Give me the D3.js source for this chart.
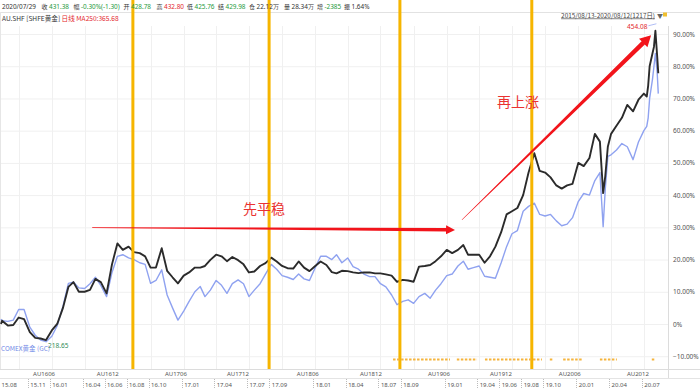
<!DOCTYPE html>
<html>
<head>
<meta charset="utf-8">
<script src="https://cdn.jsdelivr.net/npm/d3@7"></script>
<style>
body { margin: 0; background: #fff; }
svg { display: block; font-family: "Noto Sans CJK SC", "Noto Sans", sans-serif; }
</style>
</head>
<body>
<svg width="700" height="389"></svg>
<script>
// **** data (percent change since 2015/08/13) ****
var dates = ["2015-08-13","2015-08-16","2015-09-01","2015-09-16","2015-10-01","2015-10-16","2015-11-01","2015-11-16","2015-12-01","2015-12-16",
  "2016-01-01","2016-01-16","2016-02-01","2016-02-16","2016-03-01","2016-03-16","2016-04-01","2016-04-16","2016-05-01","2016-05-16",
  "2016-06-01","2016-06-16","2016-07-01","2016-07-16","2016-08-01","2016-08-16","2016-09-01","2016-09-16","2016-10-01","2016-10-16",
  "2016-11-01","2016-11-16","2016-12-01","2016-12-16","2017-01-01","2017-01-16","2017-02-01","2017-02-16","2017-03-01","2017-03-16",
  "2017-04-01","2017-04-16","2017-05-01","2017-05-16","2017-06-01","2017-06-16","2017-07-01","2017-07-16","2017-08-01","2017-08-16",
  "2017-09-01","2017-09-16","2017-10-01","2017-10-16","2017-11-01","2017-11-16","2017-12-01","2017-12-16","2018-01-01","2018-01-16",
  "2018-02-01","2018-02-16","2018-03-01","2018-03-16","2018-04-01","2018-04-16","2018-05-01","2018-05-16","2018-06-01","2018-06-16",
  "2018-07-01","2018-07-16","2018-08-01","2018-08-16","2018-09-01","2018-09-16","2018-10-01","2018-10-16","2018-11-01","2018-11-16",
  "2018-12-01","2018-12-16","2019-01-01","2019-01-16","2019-02-01","2019-02-16","2019-03-01","2019-03-16","2019-04-01","2019-04-16",
  "2019-05-01","2019-05-16","2019-06-01","2019-06-16","2019-07-01","2019-07-16","2019-08-01","2019-08-16","2019-09-01","2019-09-16",
  "2019-10-01","2019-10-16","2019-11-01","2019-11-16","2019-12-01","2019-12-16","2020-01-01","2020-01-16","2020-02-01","2020-02-16",
  "2020-03-01","2020-03-10","2020-03-16","2020-03-23","2020-04-01","2020-04-16","2020-05-01","2020-05-16","2020-06-01","2020-06-16",
  "2020-07-01","2020-07-09","2020-07-13","2020-07-17","2020-07-25","2020-07-29","2020-08-02","2020-08-07","2020-08-10"];

var auPct = [0,1.0,-0.5,-0.3,2.0,1.5,-2.5,-4.3,-4.5,-5,
  -2,0,5,11.5,13,10,10,10.6,14,13,
  9.5,18.5,25,23,24,22.3,22,21,17.5,17.5,
  23.5,16.5,14.5,12.6,15,16,17.5,17.5,18,19.9,
  21.5,21,19.5,20.8,19.8,18.5,16,16.3,18,18.9,
  20.6,19.4,18,17.3,17.2,19.4,17.5,16.4,18,19.4,
  18.3,16.1,15.7,16.5,16.4,16,15.8,16,16,15.7,
  15.7,15.4,15,13.1,13.7,13.5,13.1,17.8,18,18.3,
  19.5,21,23,22,23,24.5,21.5,21.5,21.5,19,
  21,24,28.5,34,35,36,40,47,53,47.5,
  47,45.5,43,42,43,43.5,50,49,51.5,59,
  56.6,40.6,46,55,59,61.5,64,68,66,69.6,
  71.5,70.6,74,80,84,86,91,83,77.8];

var gcPct = [1.5,1.0,0.8,1.2,4.5,4.5,-1,-3.5,-5,-5.5,
  -3.8,-0.5,5.5,12.6,13,11.2,11,12.5,14.5,12,
  8.5,16,21,21.5,20.5,20,19,18.5,12.6,13.5,
  16.8,9,5,1.2,4,7,10,11.6,8.5,10.5,
  13.5,12,9.5,12.5,13.7,12.5,8.5,10.5,12.5,15.5,
  18.5,17,15,14.5,13.8,15.5,14,13.5,17.5,21,
  21,20,21.5,19,20.5,17.8,17,15.5,14.7,14.7,
  12.5,11.5,9,6,7,7.5,6.4,8.5,9.5,8,
  10.5,12.5,15,15.5,18,19.5,17,17.5,18,14.8,
  14.5,14.2,19,24,28,29,35,36.5,37.5,34,
  33.5,34,32,30.5,31,33,38,40.5,40,44.5,
  47,30.2,42,52,52.5,54,56,55,51,56.5,
  60,61.3,64,70,76,80,84,78,71.5];

var pctTicks = [-10,0,10,20,30,40,50,60,70,80,90];

var monthTicks = ["2015-08-13","2015-11-01","2016-01-01","2016-04-01","2016-06-01","2016-08-01","2016-10-01","2017-01-01","2017-04-01","2017-07-01","2017-09-01",
  "2018-01-01","2018-04-01","2018-07-01","2018-09-01","2019-01-01","2019-04-01","2019-06-01","2019-08-01","2019-10-01","2020-01-01","2020-04-01","2020-07-01"];
var monthLabels = ["15.08","15.11","16.01","16.04","16.06","16.08","16.10","17.01","17.04","17.07","17.09",
  "18.01","18.04","18.07","18.09","19.01","19.04","19.06","19.08","19.10","20.01","20.04","20.07"];

var contracts = ["AU1606","AU1612","AU1706","AU1712","AU1806","AU1812","AU1906","AU1912","AU2006","AU2012"];
var contractDates = ["2015-11-10","2016-05-05","2016-11-10","2017-05-01","2017-11-11","2018-05-05","2018-11-10","2019-05-01","2019-11-08","2020-05-15"];

var rollDates = ["2016-08-13","2017-08-26","2018-08-24","2019-08-25"];

var signalRanges = [["2018-08-05","2019-01-10"],["2019-01-29","2019-03-26"],["2019-04-17","2019-09-22"],["2019-10-14","2019-10-23"],
  ["2019-11-20","2020-01-14"],["2020-03-01","2020-04-17"],["2020-07-23","2020-08-01"]];

var headerLabels = ["", "收", "幅", "开", "高", "低", "结", "仓", "量", "增", "振"];
var headerValues = ["2020/07/29", "431.38", "-0.30%(-1.30)", "428.78", "432.80", "425.76", "429.98", "22.12万", "28.34万", "-2385", "1.64%"];
var headerColors = ["#333", "#1e9a3c", "#1e9a3c", "#1e9a3c", "#e3262c", "#1e9a3c", "#1e9a3c", "#333", "#333", "#1e9a3c", "#333"];

// annotations: [date, pct]
var flatArrow = [["2016-04-22", 29.9], ["2019-01-24", 29.2]];
var riseArrow = [["2019-02-12", 32.3], ["2020-07-21", 89.6]];
var notes = [["先平稳", "2017-08-12", 36], ["再上涨", "2019-07-18", 69.2]];

// **** scales ****
var parse = d3.timeParse("%Y-%m-%d");
var W = 700, H = 389;
var plotRight = 668, plotBottom = 369;

var x = d3.scaleTime().domain([parse("2015-08-13"), parse("2020-08-12")]).range([1, 659]);
var y = d3.scaleLinear().domain([-10, 90]).range([356.2, 34]);

var svg = d3.select("svg");

var au = dates.map(function(d, i) { return { date: parse(d), v: auPct[i] }; });
var gc = dates.map(function(d, i) { return { date: parse(d), v: gcPct[i] }; });

// grid
svg.append("g").selectAll("line").data(pctTicks).join("line")
  .attr("x1", 0).attr("x2", plotRight)
  .attr("y1", function(d) { return y(d) + 0.5; }).attr("y2", function(d) { return y(d) + 0.5; })
  .attr("stroke", "#f0f0f0");

var quarters = d3.timeMonth.every(3).range(parse("2015-10-01"), parse("2020-08-12"));
svg.append("g").selectAll("line").data(quarters).join("line")
  .attr("x1", function(d) { return Math.round(x(d)) + 0.5; }).attr("x2", function(d) { return Math.round(x(d)) + 0.5; })
  .attr("y1", 26).attr("y2", plotBottom)
  .attr("stroke", "#f0f0f0");

// frame lines
svg.append("line").attr("x1", 0).attr("x2", W).attr("y1", 12.5).attr("y2", 12.5).attr("stroke", "#e2e2e2");
svg.append("line").attr("x1", plotRight + 0.5).attr("x2", plotRight + 0.5).attr("y1", 26).attr("y2", 378).attr("stroke", "#dcdcdc");
svg.append("line").attr("x1", 0.5).attr("x2", 0.5).attr("y1", 12).attr("y2", plotBottom).attr("stroke", "#e6e6e6");
svg.append("line").attr("x1", 0).attr("x2", W).attr("y1", plotBottom + 0.5).attr("y2", plotBottom + 0.5).attr("stroke", "#dcdcdc");
svg.append("line").attr("x1", 0).attr("x2", W).attr("y1", 378.5).attr("y2", 378.5).attr("stroke", "#e4e4e4");

// right axis
var yAxis = svg.append("g").attr("transform", "translate(" + plotRight + ",0)")
  .call(d3.axisRight(y).tickValues(pctTicks).tickSize(0).tickPadding(5)
    .tickFormat(function(d) { return d === 0 ? "0%" : d3.format(".2f")(d) + "%"; }));
yAxis.select(".domain").remove();
yAxis.selectAll("text").attr("fill", "#555").style("font-size", "6.5px").style("font-family", "Noto Sans, sans-serif");

// series
var line = d3.line().x(function(d) { return x(d.date); }).y(function(d) { return y(d.v); });

svg.append("path").datum(gc).attr("d", line)
  .attr("fill", "none").attr("stroke", "#8fa2f0").attr("stroke-width", 1.4).attr("stroke-linejoin", "round");
svg.append("path").datum(au).attr("d", line)
  .attr("fill", "none").attr("stroke", "#2b2b2b").attr("stroke-width", 1.9).attr("stroke-linejoin", "round");

// contract roll lines
svg.append("g").selectAll("line").data(rollDates).join("line")
  .attr("x1", function(d) { return x(parse(d)); }).attr("x2", function(d) { return x(parse(d)); })
  .attr("y1", 0).attr("y2", plotBottom)
  .attr("stroke", "#f6b500").attr("stroke-width", 3);

// signal marks along the bottom
svg.append("g").selectAll("line").data(signalRanges).join("line")
  .attr("x1", function(d) { return x(parse(d[0])); }).attr("x2", function(d) { return x(parse(d[1])); })
  .attr("y1", 359.5).attr("y2", 359.5)
  .attr("stroke", "#f5b43c").attr("stroke-width", 2).attr("stroke-dasharray", "2.5,1.5");

// arrows
function arrowPath(p0, p1, w0, w1, headLen, headHalf) {
  var dx = p1[0] - p0[0], dy = p1[1] - p0[1];
  var len = Math.sqrt(dx * dx + dy * dy);
  var ux = dx / len, uy = dy / len, nx = -uy, ny = ux;
  var bx = p1[0] - ux * headLen, by = p1[1] - uy * headLen;
  var pts = [
    [p0[0] + nx * w0 / 2, p0[1] + ny * w0 / 2],
    [bx + nx * w1 / 2, by + ny * w1 / 2],
    [bx + nx * headHalf, by + ny * headHalf],
    [p1[0], p1[1]],
    [bx - nx * headHalf, by - ny * headHalf],
    [bx - nx * w1 / 2, by - ny * w1 / 2],
    [p0[0] - nx * w0 / 2, p0[1] - ny * w0 / 2]
  ];
  return "M" + pts.map(function(p) { return p[0].toFixed(1) + "," + p[1].toFixed(1); }).join("L") + "Z";
}
function toPx(a) { return [x(parse(a[0])), y(a[1])]; }

svg.append("path").attr("d", arrowPath(toPx(flatArrow[0]), toPx(flatArrow[1]), 0.6, 3.6, 9, 4.5)).attr("fill", "#f2141b");
svg.append("path").attr("d", arrowPath(toPx(riseArrow[0]), toPx(riseArrow[1]), 0.6, 4.6, 11, 6)).attr("fill", "#f2141b");

svg.append("g").selectAll("text").data(notes).join("text")
  .attr("x", function(d) { return x(parse(d[1])); })
  .attr("y", function(d) { return y(d[2]); })
  .attr("text-anchor", "middle").attr("dominant-baseline", "central")
  .attr("fill", "#ea3230").style("font-size", "14px")
  .text(function(d) { return d[0]; });

// max / min price labels
var iMax = d3.maxIndex(auPct), iMin = d3.minIndex(auPct);
var maxX = x(au[iMax].date), maxY = y(au[iMax].v);
svg.append("line").attr("x1", maxX - 7).attr("y1", maxY - 5).attr("x2", maxX + 1).attr("y2", maxY - 7)
  .attr("stroke", "#8fa2f0").attr("stroke-width", 0.7);
svg.append("text").attr("x", maxX - 8).attr("y", maxY - 2).attr("text-anchor", "end")
  .attr("fill", "#e3262c").style("font-size", "6.5px").style("font-family", "Noto Sans, sans-serif").text("454.08");
svg.append("text").attr("x", x(au[iMin].date) + 2).attr("y", y(au[iMin].v) + 8)
  .attr("fill", "#2e8b57").style("font-size", "6.5px").style("font-family", "Noto Sans, sans-serif").text("218.65");
svg.append("text").attr("x", 1).attr("y", 351)
  .attr("fill", "#6f88e6").style("font-size", "6.5px").text("COMEX黄金 (GC)");

// contract row
svg.append("g").selectAll("text").data(contracts).join("text")
  .attr("x", function(d, i) { return x(parse(contractDates[i])); })
  .attr("y", 376)
  .attr("fill", "#555").style("font-size", "6px").style("font-family", "Noto Sans, sans-serif")
  .text(function(d) { return d; });

// month row
var mt = svg.append("g");
mt.selectAll("line").data(monthTicks.slice(1)).join("line")
  .attr("x1", function(d) { return Math.round(x(parse(d))) - 1.5; }).attr("x2", function(d) { return Math.round(x(parse(d))) - 1.5; })
  .attr("y1", 379).attr("y2", 389)
  .attr("stroke", "#bbb").attr("stroke-dasharray", "1,1");
mt.selectAll("text").data(monthTicks).join("text")
  .attr("x", function(d) { return x(parse(d)) + 0.5; })
  .attr("y", 386.5)
  .attr("fill", "#555").style("font-size", "6px").style("font-family", "Noto Sans, sans-serif")
  .text(function(d, i) { return monthLabels[i]; });

// header
var headerX = [2, 41.5, 73.5, 123.5, 156.5, 187, 218, 249, 284, 317, 344];
var hdr = svg.append("g");
headerLabels.forEach(function(lab, i) {
  if (lab) hdr.append("text").attr("x", headerX[i]).attr("y", 8.5).attr("fill", "#333").style("font-size", "6px").text(lab);
  hdr.append("text").attr("x", headerX[i] + (lab ? 7.5 : 0)).attr("y", 8.5)
    .attr("fill", headerColors[i]).style("font-size", "6.4px").style("font-family", "Noto Sans, sans-serif").text(headerValues[i]);
});

var sub = svg.append("text").attr("x", 2).attr("y", 21).style("font-size", "6.6px");
sub.append("tspan").attr("fill", "#333").text("AU.SHF [SHFE黄金] ");
sub.append("tspan").attr("fill", "#e3262c").text("日线 ");
sub.append("tspan").attr("fill", "#e3262c").text("MA250:365.68");

svg.append("text").attr("x", 655).attr("y", 17.5).attr("text-anchor", "end")
  .attr("fill", "#444").style("font-size", "6.4px").attr("text-decoration", "underline")
  .text("2015/08/13-2020/08/12(1217日)");
svg.append("text").attr("x", 657).attr("y", 17.5).attr("fill", "#666").style("font-size", "6px").text("▼");
svg.append("rect").attr("x", 663).attr("y", 12.5).attr("width", 4).attr("height", 4).attr("fill", "#f0c030");
</script>
</body>
</html>
